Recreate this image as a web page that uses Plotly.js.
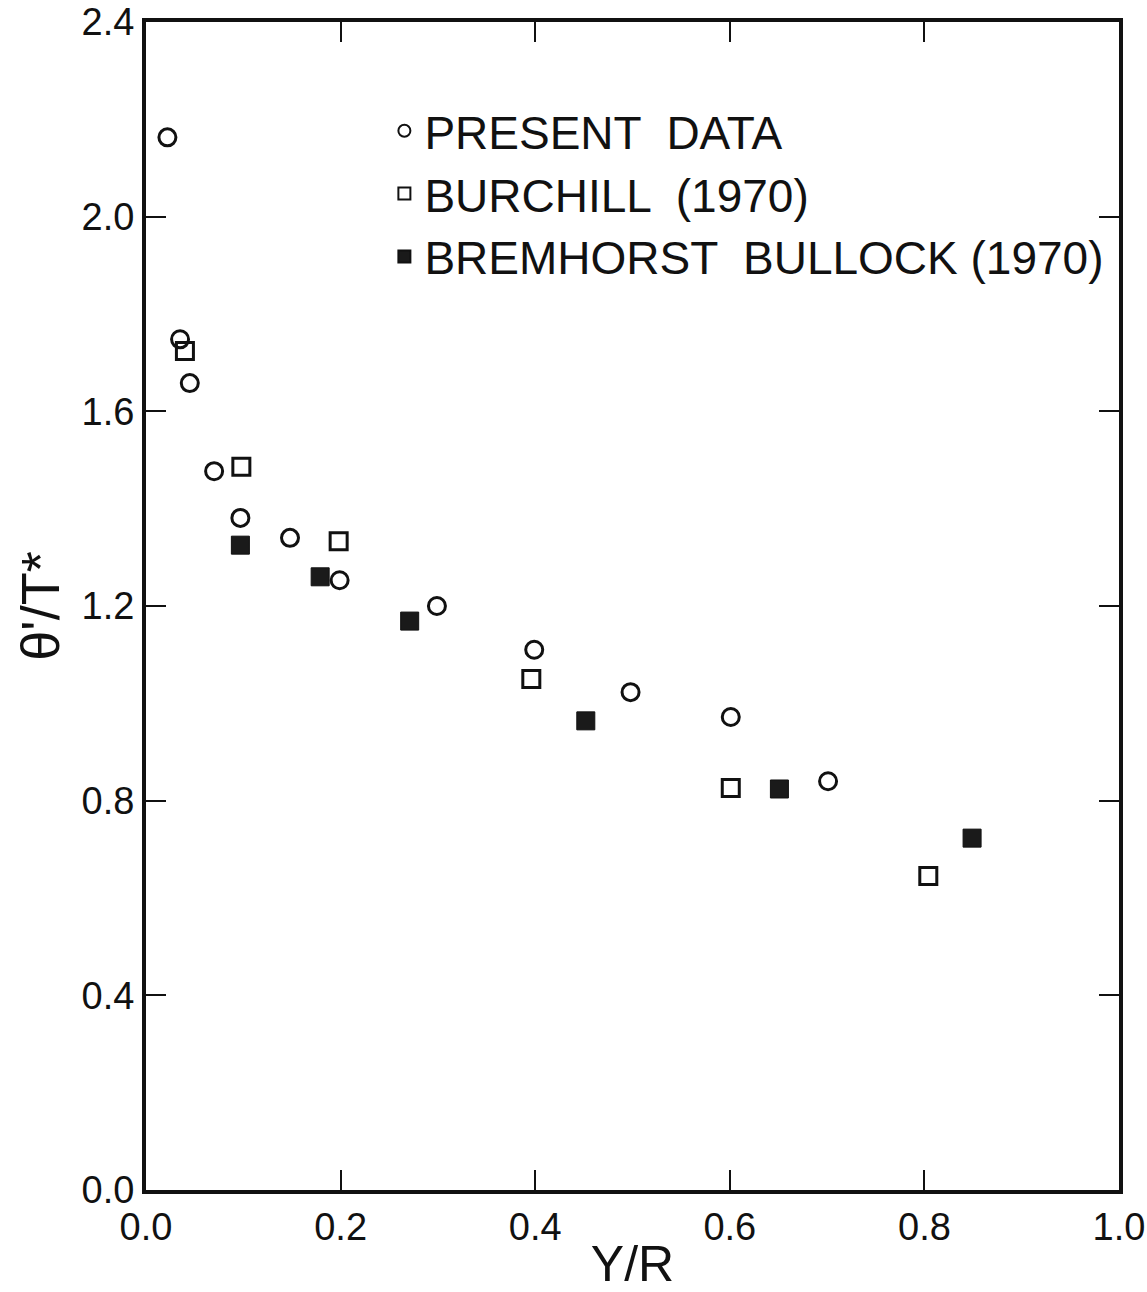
<!DOCTYPE html>
<html>
<head>
<meta charset="utf-8">
<script src="https://cdn.plot.ly/plotly-3.0.1.min.js"></script>
<style>html,body{margin:0;padding:0;background:#fff;}#chart{width:1147px;height:1292px;}</style>
</head>
<body>
<div id="chart"></div>
<script>
// Present data (open circles)
const presentX = [0.022, 0.035, 0.045, 0.070, 0.097, 0.148, 0.199, 0.299, 0.399, 0.498, 0.601, 0.701];
const presentY = [2.163, 1.748, 1.658, 1.477, 1.381, 1.340, 1.253, 1.200, 1.110, 1.023, 0.972, 0.840];
// Burchill (1970) (open squares)
const burchillX = [0.040, 0.098, 0.198, 0.396, 0.601, 0.804];
const burchillY = [1.724, 1.486, 1.333, 1.050, 0.826, 0.645];
// Bremhorst Bullock (1970) (filled squares)
const bremX = [0.097, 0.179, 0.271, 0.452, 0.651, 0.849];
const bremY = [1.325, 1.260, 1.169, 0.964, 0.824, 0.723];

const xTicks = [0, 0.2, 0.4, 0.6, 0.8, 1.0];
const xTickText = ["0.0", "0.2", "0.4", "0.6", "0.8", "1.0"];
const yTicks = [0, 0.4, 0.8, 1.2, 1.6, 2.0, 2.4];
const yTickText = ["0.0", "0.4", "0.8", "1.2", "1.6", "2.0", "2.4"];

const names = ["PRESENT  DATA", "BURCHILL  (1970)", "BREMHORST  BULLOCK (1970)"];

const FONT = "Liberation Sans Narrow, Liberation Sans, Arial, sans-serif";

const traces = [
  {x: presentX, y: presentY, mode: 'markers', type: 'scatter', name: names[0],
   marker: {symbol: 'circle-open', size: 17, color: '#111', line: {width: 3, color: '#111'}}},
  {x: burchillX, y: burchillY, mode: 'markers', type: 'scatter', name: names[1],
   marker: {symbol: 'square-open', size: 17, color: '#111', line: {width: 3, color: '#111'}}},
  {x: bremX, y: bremY, mode: 'markers', type: 'scatter', name: names[2],
   marker: {symbol: 'square', size: 18, color: '#1a1a1a', line: {width: 1, color: '#111'}}}
];

const layout = {
  width: 1147, height: 1292,
  margin: {l: 146, r: 28, t: 22, b: 102},
  paper_bgcolor: '#fff', plot_bgcolor: '#fff',
  font: {family: FONT, color: '#111', size: 32},
  showlegend: true,
  legend: {x: 0.245, y: 0.938, xanchor: 'left', yanchor: 'top',
           font: {family: FONT, size: 46, color: '#111'},
           bgcolor: 'rgba(0,0,0,0)', borderwidth: 0, itemsizing: 'constant',
           tracegroupgap: 0},
  xaxis: {
    range: [0, 1.0], tickvals: xTicks, ticktext: xTickText,
    ticks: 'inside', ticklen: 20, tickwidth: 2, tickcolor: '#111',
    showline: true, linewidth: 4, linecolor: '#111', mirror: 'ticks',
    showgrid: false, zeroline: false,
    tickfont: {family: FONT, size: 38, color: '#111'},
    title: {text: 'Y/R', font: {family: FONT, size: 50, color: '#111'}, standoff: 6}
  },
  yaxis: {
    range: [0, 2.4], tickvals: yTicks, ticktext: yTickText,
    ticks: 'inside', ticklen: 20, tickwidth: 2, tickcolor: '#111',
    showline: true, linewidth: 4, linecolor: '#111', mirror: 'ticks',
    showgrid: false, zeroline: false,
    tickfont: {family: FONT, size: 38, color: '#111'},
    title: {text: "θ'/T*", font: {family: FONT, size: 54, color: '#111'}, standoff: 6}
  }
};

Plotly.newPlot('chart', traces, layout, {displayModeBar: false, staticPlot: true});
</script>
</body>
</html>
